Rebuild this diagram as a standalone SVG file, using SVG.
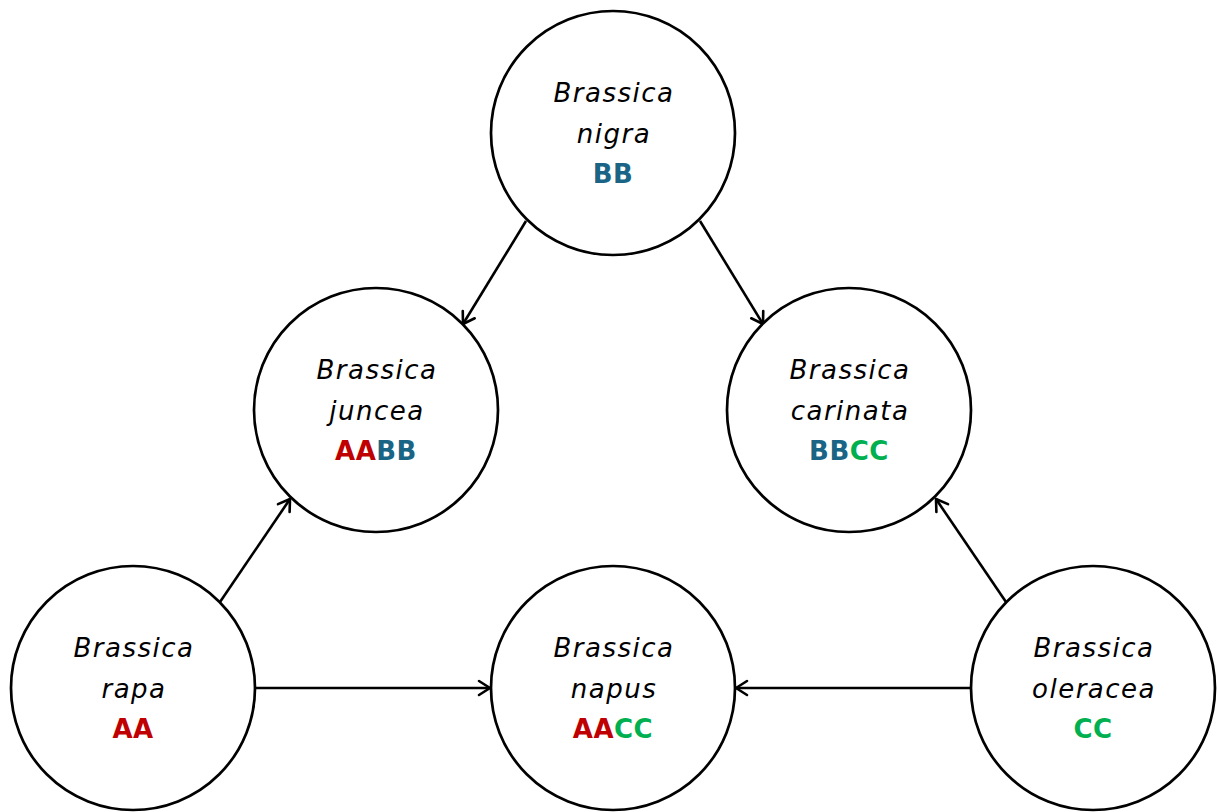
<svg xmlns="http://www.w3.org/2000/svg" width="1217" height="812" viewBox="0 0 1217 812">
<defs>
<marker id="arr" markerWidth="16" markerHeight="18" refX="13" refY="9" orient="auto" markerUnits="userSpaceOnUse">
<path d="M2,2 L13,9 L2,16" fill="none" stroke="#000" stroke-width="2.6" stroke-linecap="round" stroke-linejoin="round"/>
</marker>
<style>
.c{fill:#fff;stroke:#000;stroke-width:2.7}
.n{font-family:"DejaVu Sans",sans-serif;font-style:italic;font-size:26px;letter-spacing:1.5px;fill:#000;text-anchor:middle}
.g{font-family:"DejaVu Sans",sans-serif;font-weight:bold;font-size:26px;letter-spacing:0.5px;text-anchor:middle}
.a{fill:#c00000}.b{fill:#1a6585}.cc{fill:#00b050}
.e{stroke:#000;stroke-width:2.6;fill:none;marker-end:url(#arr)}
</style>
</defs>
<rect width="1217" height="812" fill="#fff"/>
<g id="connectors">
<line class="e" x1="526" y1="221" x2="463" y2="324"/>
<line class="e" x1="700" y1="221" x2="763" y2="324"/>
<line class="e" x1="220" y1="602" x2="290" y2="499"/>
<line class="e" x1="1006" y1="602" x2="936" y2="499"/>
<line class="e" x1="256" y1="688" x2="490" y2="688"/>
<line class="e" x1="970" y1="688" x2="736" y2="688"/>
</g>
<g id="nigra">
<circle class="c" cx="613" cy="133" r="122"/>
<text class="n" x="614" y="102">Brassica</text>
<text class="n" x="614" y="143">nigra</text>
<text class="g" x="613" y="183"><tspan class="b">BB</tspan></text>
</g>
<g id="juncea">
<circle class="c" cx="376" cy="410" r="122"/>
<text class="n" x="377" y="379">Brassica</text>
<text class="n" x="377" y="420">juncea</text>
<text class="g" x="376" y="460"><tspan class="a">AA</tspan><tspan class="b">BB</tspan></text>
</g>
<g id="carinata">
<circle class="c" cx="849" cy="410" r="122"/>
<text class="n" x="850" y="379">Brassica</text>
<text class="n" x="850" y="420">carinata</text>
<text class="g" x="849" y="460"><tspan class="b">BB</tspan><tspan class="cc">CC</tspan></text>
</g>
<g id="rapa">
<circle class="c" cx="133" cy="688" r="122"/>
<text class="n" x="134" y="657">Brassica</text>
<text class="n" x="134" y="698">rapa</text>
<text class="g" x="133" y="738"><tspan class="a">AA</tspan></text>
</g>
<g id="napus">
<circle class="c" cx="613" cy="688" r="122"/>
<text class="n" x="614" y="657">Brassica</text>
<text class="n" x="614" y="698">napus</text>
<text class="g" x="613" y="738"><tspan class="a">AA</tspan><tspan class="cc">CC</tspan></text>
</g>
<g id="oleracea">
<circle class="c" cx="1093" cy="688" r="122"/>
<text class="n" x="1094" y="657">Brassica</text>
<text class="n" x="1094" y="698">oleracea</text>
<text class="g" x="1093" y="738"><tspan class="cc">CC</tspan></text>
</g>
</svg>
